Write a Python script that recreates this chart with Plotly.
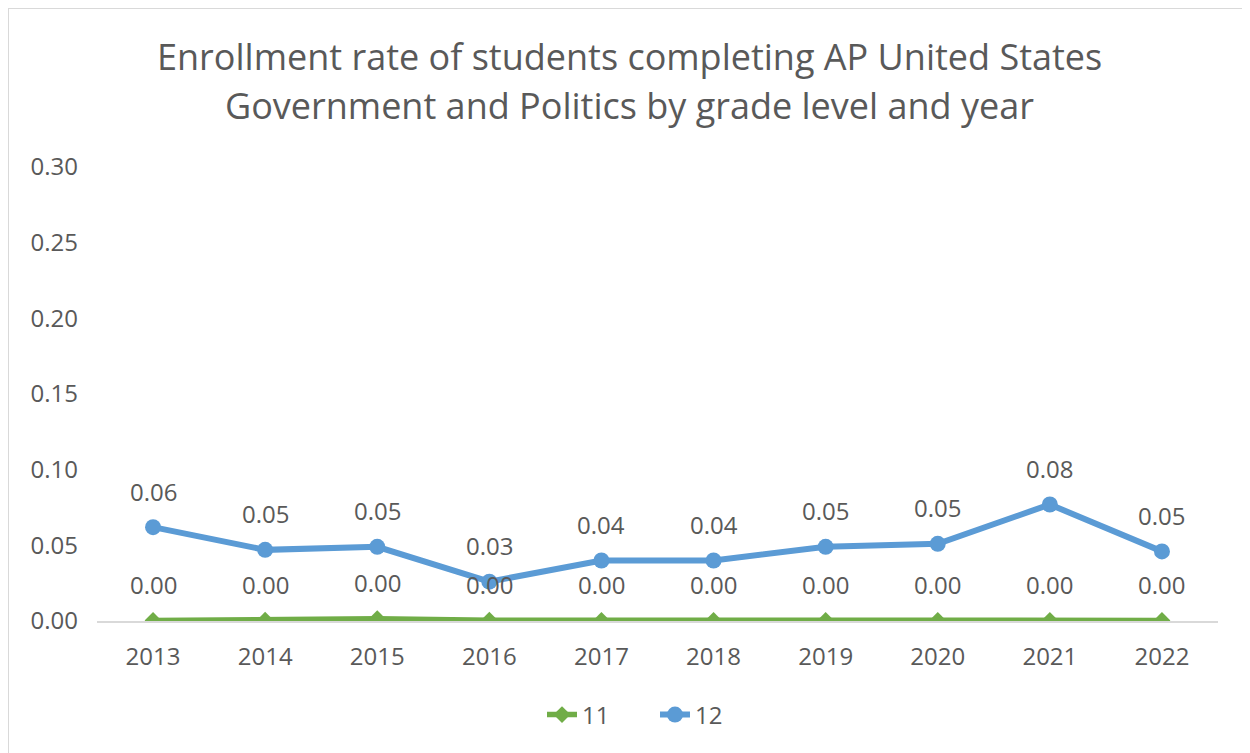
import plotly.graph_objects as go

years = ["2013", "2014", "2015", "2016", "2017", "2018", "2019", "2020", "2021", "2022"]
grade11 = [0.0004, 0.0005, 0.0015, 0.0005, 0.0004, 0.0004, 0.0004, 0.0004, 0.0004, 0.0004]
grade12 = [0.062, 0.047, 0.049, 0.026, 0.040, 0.040, 0.049, 0.051, 0.077, 0.046]
y_ticks = [0.0, 0.05, 0.10, 0.15, 0.20, 0.25, 0.30]
title_lines = ["Enrollment rate of students completing AP United States",
               "Government and Politics by grade level and year"]

FONT = "Open Sans"
GREY = "#595959"
GREEN = "#70AD47"
BLUE = "#5B9BD5"

W, H = 1250, 753
OFF = 8  # page body margin offset
L, R, T, B = 97 - OFF, 40, 167 - OFF, 140

fig = go.Figure()
fig.add_trace(go.Scatter(
    x=years, y=grade11, name="11", mode="lines+markers",
    line=dict(color=GREEN, width=5.5),
    marker=dict(symbol="diamond", size=13, color=GREEN),
))
fig.add_trace(go.Scatter(
    x=years, y=grade12, name="12", mode="lines+markers",
    line=dict(color=BLUE, width=6),
    marker=dict(symbol="circle", size=16, color=BLUE),
))

annotations = []
for series in (grade11, grade12):
    for i, yv in enumerate(series):
        annotations.append(dict(x=i, y=yv, xref="x", yref="y", text=f"{yv:.2f}",
                                showarrow=False, yshift=36,
                                font=dict(family=FONT, size=24, color=GREY)))

pw = W - L - R
ph = H - T - B
title_y = [57 - OFF, 105 - OFF]
for line, yc in zip(title_lines, title_y):
    annotations.append(dict(x=(629 - OFF - L) / pw, y=(H - B - yc) / ph, xref="paper", yref="paper",
                            text=line, showarrow=False, xanchor="center", yanchor="middle",
                            font=dict(family=FONT, size=36, color=GREY)))

# outer border (light grey)
bx0 = (0 - L) / pw
bx1 = (W + 5 - L) / pw
by1 = (H - B - 0) / ph
by0 = (H - B - (H + 5)) / ph
shapes = [dict(type="rect", xref="paper", yref="paper", x0=bx0, x1=bx1, y0=by0, y1=by1,
               line=dict(color="#D9D9D9", width=2), fillcolor="rgba(0,0,0,0)", layer="below")]

fig.update_layout(
    width=W, height=H,
    margin=dict(l=L, r=R, t=T, b=B),
    paper_bgcolor="white", plot_bgcolor="white",
    font=dict(family=FONT, color=GREY, size=24),
    showlegend=True,
    legend=dict(orientation="h", x=(655 - OFF - L) / pw, xanchor="center",
                y=-(715 - OFF - (H - B)) / ph, yanchor="middle",
                entrywidth=68, entrywidthmode="pixels",
                font=dict(family=FONT, size=24, color=GREY)),
    annotations=annotations,
    shapes=shapes,
)
fig.update_xaxes(type="category", range=[-0.5, 9.5], showgrid=False, showline=True,
                 linecolor="#D9D9D9", linewidth=2, ticks="", ticklabelstandoff=13,
                 tickfont=dict(family=FONT, size=24, color=GREY), zeroline=False)
fig.update_yaxes(range=[0, 0.30], tickvals=y_ticks, tickformat=".2f", showgrid=False,
                 showline=False, zeroline=False, ticks="", ticklabelstandoff=18,
                 tickfont=dict(family=FONT, size=24, color=GREY))

fig.write_html("out.html")
